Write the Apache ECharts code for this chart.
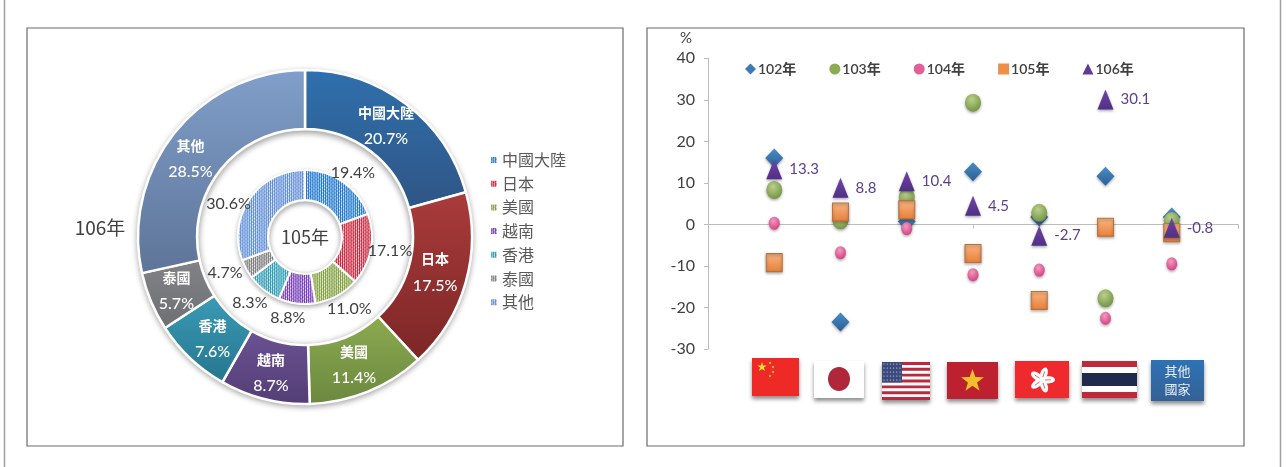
<!DOCTYPE html>
<html><head><meta charset="utf-8">
<style>html,body{margin:0;padding:0;background:#fff}#c{width:1286px;height:467px}</style>
<script src="https://cdn.jsdelivr.net/npm/echarts@6/dist/echarts.min.js"></script>
</head><body><div id="c"></div>
<script>
const regions = ['中國大陸','日本','美國','越南','香港','泰國','其他'];
const share105 = [19.4,17.1,11.0,8.8,8.3,4.7,30.6];
const share106 = [20.7,17.5,11.4,8.7,7.6,5.7,28.5];
const years = ['102年','103年','104年','105年','106年'];
const growth102 = [16.0,-23.5,0.7,12.7,1.8,11.6,1.8];
const growth103 = [8.3,1.0,6.6,29.3,2.8,-17.8,0.8];
const growth104 = [0.3,-6.8,-1.0,-12.1,-11.0,-22.6,-9.5];
const growth105 = [-9.2,3.0,3.5,-7.0,-18.3,-0.7,-2.0];
const growth106 = [13.3,8.8,10.4,4.5,-2.7,30.1,-0.8];
const yTicks = {min:-30,max:40,step:10};

const FONT = 'Lato,"Noto Sans CJK TC",sans-serif';
const CJK = '"Noto Sans CJK TC",sans-serif';

const patColors = ['#1a74cc','#c9203a','#7f9e3a','#7338b8','#2698b2','#7a7a7a','#5a8ad6'];
function pattern(col){
  const c=document.createElement('canvas');c.width=c.height=3;
  const x=c.getContext('2d');x.fillStyle=col;x.fillRect(0,0,3,3);
  x.fillStyle='#fff';x.fillRect(0,0,1,1);x.fillRect(1,1,1,1);x.fillRect(2,2,1,1);
  return {image:c,repeat:'repeat',rotation:Math.PI/4};
}
const pats = patColors.map(pattern);
const grads = [['#2f70ad','#2f5585'],['#aa3b3b','#7c2626'],['#8bab50','#6c873f'],['#6b5192','#533e76'],['#3a9bb6','#26758e'],['#828386','#6e6f72'],['#809fca','#5e7498']];
const vg=(a,b)=>({type:'linear',x:0,y:0,x2:0,y2:1,colorStops:[{offset:0,color:a},{offset:1,color:b}]});
const rg=(a,b)=>({type:'radial',x:.42,y:.32,r:.75,colorStops:[{offset:0,color:a},{offset:1,color:b}]});

// offsets nudging labels to where the reference puts them
const innerNudge = [[-22,-6],[-14,1],[-19,10],[16,7],[12,10],[3,2],[11,7]];
const outerNudge = [[-4,1],[-5,-3],[-4,-2],[0,0],[4,0],[1,0],[-5,10]];

function star(cx,cy,R,rot){
  const p=[];for(let i=0;i<10;i++){const r=i%2?R*.4:R,a=-Math.PI/2+i*Math.PI/5+(rot||0);p.push([cx+r*Math.cos(a),cy+r*Math.sin(a)]);}
  return p;
}
const flagShadow={shadowBlur:4,shadowOffsetY:3,shadowColor:'rgba(0,0,0,.45)'};
const rect=(x,y,w,h,fill,extra)=>({type:'rect',shape:{x,y,width:w,height:h},style:Object.assign({fill},extra||{}),silent:true});
const poly=(points,fill)=>({type:'polygon',shape:{points},style:{fill},silent:true});
const g=[];
g.push({type:'line',shape:{x1:4.5,y1:0,x2:4.5,y2:467},style:{stroke:'#a0a0a0',lineWidth:1.5},silent:true});
g.push({type:'line',shape:{x1:1280.5,y1:0,x2:1280.5,y2:467},style:{stroke:'#a0a0a0',lineWidth:1.5},silent:true});
g.push({type:'rect',shape:{x:27,y:28,width:596,height:418},style:{fill:'none',stroke:'#6b6b6b',lineWidth:1.2},silent:true});
g.push({type:'rect',shape:{x:647,y:28,width:597,height:418},style:{fill:'none',stroke:'#6b6b6b',lineWidth:1.2},silent:true});
g.push({type:'ring',shape:{cx:305,cy:237,r:167,r0:107},style:{fill:'#fff',stroke:'#d8d8d8',lineWidth:1,shadowBlur:6,shadowOffsetY:2,shadowColor:'rgba(0,0,0,.4)'},silent:true});
g.push({type:'ring',shape:{cx:305,cy:237,r:67,r0:36},style:{fill:'#fff',stroke:'#e0e0e0',lineWidth:1,shadowBlur:5,shadowOffsetY:2,shadowColor:'rgba(0,0,0,.35)'},silent:true});
g.push(rect(752,358,47,38,'#ee2a27',flagShadow));
g.push(poly(star(762,367,5),'#f8e032'));
[[770,363],[773,367],[773,372],[770,376]].forEach(p=>g.push(poly(star(p[0],p[1],1.6),'#f8e032')));
g.push(rect(814,361,50,37,'#ffffff',flagShadow));
g.push({type:'ellipse',shape:{cx:839,cy:379,rx:11,ry:12},style:{fill:'#b0263a'},silent:true});
g.push(rect(882,362,48,38,'#ffffff',flagShadow));
for(let i=0;i<13;i+=2) g.push(rect(882,362+i*38/13,48,38/13,'#bb2a3c'));
g.push(rect(882,362,20,20.5,'#3a4a7c'));
for(let r=0;r<5;r++)for(let k=0;k<6;k++) g.push({type:'circle',shape:{cx:884+k*3.2,cy:364+r*4,r:.6},style:{fill:'#dfe3ee'},silent:true});
g.push(rect(947,362,51,37,'#bd2130',flagShadow));
g.push(poly(star(972.5,381,12),'#f0c02c'));
g.push(rect(1015,361,54,37,'#ee2a2e',flagShadow));
for(let i=0;i<5;i++){
  g.push({type:'ellipse',shape:{cx:0,cy:-6.5,rx:3.6,ry:6.5},x:1042,y:380,rotation:-i*2*Math.PI/5-.3,style:{fill:'#fff'},silent:true});
  g.push({type:'line',shape:{x1:0,y1:-3,x2:0,y2:-9},x:1042,y:380,rotation:-i*2*Math.PI/5-.3,style:{stroke:'#ee2a2e',lineWidth:.7},silent:true});
}
g.push(rect(1082,361,55,37,'#ffffff',flagShadow));
g.push(rect(1082,361,55,6,'#bd2a3a'));
g.push(rect(1082,392,55,6,'#bd2a3a'));
g.push(rect(1082,373,55,13,'#1f2a4d'));
g.push(rect(1151,360,53,41,vg('#2f72b4','#346196'),flagShadow));
g.push({type:'text',style:{x:1177.5,y:371,text:'其他',fill:'#e8eef6',font:'13px '+CJK,align:'center',verticalAlign:'middle'},silent:true});
g.push({type:'text',style:{x:1177.5,y:389,text:'國家',fill:'#e8eef6',font:'13px '+CJK,align:'center',verticalAlign:'middle'},silent:true});
const txt=(x,y,t,size,col,font)=>({type:'text',style:{x,y,text:t,fill:col,font:size+'px '+(font||FONT),align:'center',verticalAlign:'middle'},silent:true});
g.push(txt(100,228,'106年',19,'#404040',CJK));
g.push(txt(305,237,'105年',18,'#404040',CJK));
g.push(txt(686,38,'%',15,'#404040'));

const scatterStyles = [
 {symbol:'diamond',size:[18,19],color:vg('#4a8cc6','#2a5f96'),legend:'#3b7cb8'},
 {symbol:'circle',size:[16,18],color:rg('#b9d08c','#6f8f3c'),legend:'#8cab52'},
 {symbol:'circle',size:[11,13],color:rg('#f39abd','#cf3b80'),legend:'#e25f97'},
 {symbol:'rect',size:[16,18],color:vg('#f9b684','#e87f38'),legend:'#ee8f48',border:'#b37240'},
 {symbol:'triangle',size:[16,20],color:vg('#6f44a6','#512f85'),legend:'#5f3a96'}
];
const allGrowth=[growth102,growth103,growth104,growth105,growth106];
const scatterSeries = years.map((name,i)=>({
  type:'scatter',name,symbol:scatterStyles[i].symbol,symbolSize:scatterStyles[i].size,
  data:allGrowth[i].map((v,k)=>[k+1,v]),
  itemStyle:{color:scatterStyles[i].color,opacity:1,borderColor:scatterStyles[i].border||'transparent',borderWidth:scatterStyles[i].border?1:0,shadowBlur:3,shadowOffsetY:1.5,shadowColor:'rgba(0,0,0,.35)'},
  label:i===4?{show:true,position:'right',distance:7,color:'#5b3f8c',fontFamily:FONT,fontSize:15,formatter:p=>String(p.value[1])}:{show:false},
  z:3+i
}));

const chart=echarts.init(document.getElementById('c'),null,{renderer:'canvas'});
chart.setOption({
  animation:false,backgroundColor:'#fff',
  graphic:{elements:g},
  grid:{left:708,right:48,top:58.3,bottom:118,containLabel:false},
  xAxis:{type:'value',min:0,max:8,interval:4,axisLabel:{show:false},splitLine:{show:false},
    axisLine:{show:true,onZero:true,lineStyle:{color:'#bdbdbd'}},axisTick:{show:true,length:4,lineStyle:{color:'#bdbdbd'}}},
  yAxis:{type:'value',min:yTicks.min,max:yTicks.max,interval:yTicks.step,splitLine:{show:false},
    axisLine:{show:true,lineStyle:{color:'#bdbdbd'}},axisTick:{show:true,length:4,lineStyle:{color:'#bdbdbd'}},
    axisLabel:{color:'#404040',fontFamily:FONT,fontSize:16,margin:13}},
  legend:[
   {orient:'vertical',left:484,top:146,itemGap:5.7,itemWidth:8,itemHeight:8,icon:'rect',data:regions,
    selectedMode:false,textStyle:{color:'#595959',fontFamily:CJK,fontSize:16,lineHeight:18,padding:[0,0,0,-1]}},
   {orient:'horizontal',left:740,top:57,itemGap:33,itemWidth:11,itemHeight:11,selectedMode:false,
    data:years.map((n,i)=>({name:n,icon:scatterStyles[i].symbol,itemStyle:{color:scatterStyles[i].legend,borderWidth:0}})),
    textStyle:{color:'#404040',fontFamily:FONT,fontSize:14,fontWeight:600,padding:[0,0,0,-3]}}
  ],
  series:[
   {type:'pie',name:'105年',center:[305,237],radius:[37,67],startAngle:90,
    data:regions.map((n,i)=>({name:n,value:share105[i],itemStyle:{color:pats[i]}})),
    itemStyle:{borderColor:'#fff',borderWidth:2},
    label:{show:true,position:'outside',color:'#404040',fontFamily:FONT,fontSize:16,formatter:p=>p.value.toFixed(1)+'%'},
    labelLine:{show:false,length:4,length2:2},
    labelLayout:p=>({dx:innerNudge[p.dataIndex][0],dy:innerNudge[p.dataIndex][1],hideOverlap:false}),
    emphasis:{disabled:true},z:4},
   {type:'pie',name:'106年',center:[305,237],radius:[108,167],startAngle:90,
    data:regions.map((n,i)=>({name:n,value:share106[i],itemStyle:{color:vg(grads[i][0],grads[i][1])}})),
    itemStyle:{borderColor:'#fff',borderWidth:2.5},
    label:{show:true,position:'inside',color:'#fff',fontFamily:FONT,
      formatter:p=>'{n|'+p.name+'}\n{v|'+p.value.toFixed(1)+'%}',
      rich:{n:{fontSize:14,fontWeight:600,lineHeight:26,color:'#fff'},v:{fontSize:16,fontWeight:500,lineHeight:26,color:'#fff'}}},
    labelLayout:p=>({dx:outerNudge[p.dataIndex][0],dy:outerNudge[p.dataIndex][1],hideOverlap:false}),
    labelLine:{show:false},emphasis:{disabled:true},z:3}
  ].concat(scatterSeries)
});
</script></body></html>
